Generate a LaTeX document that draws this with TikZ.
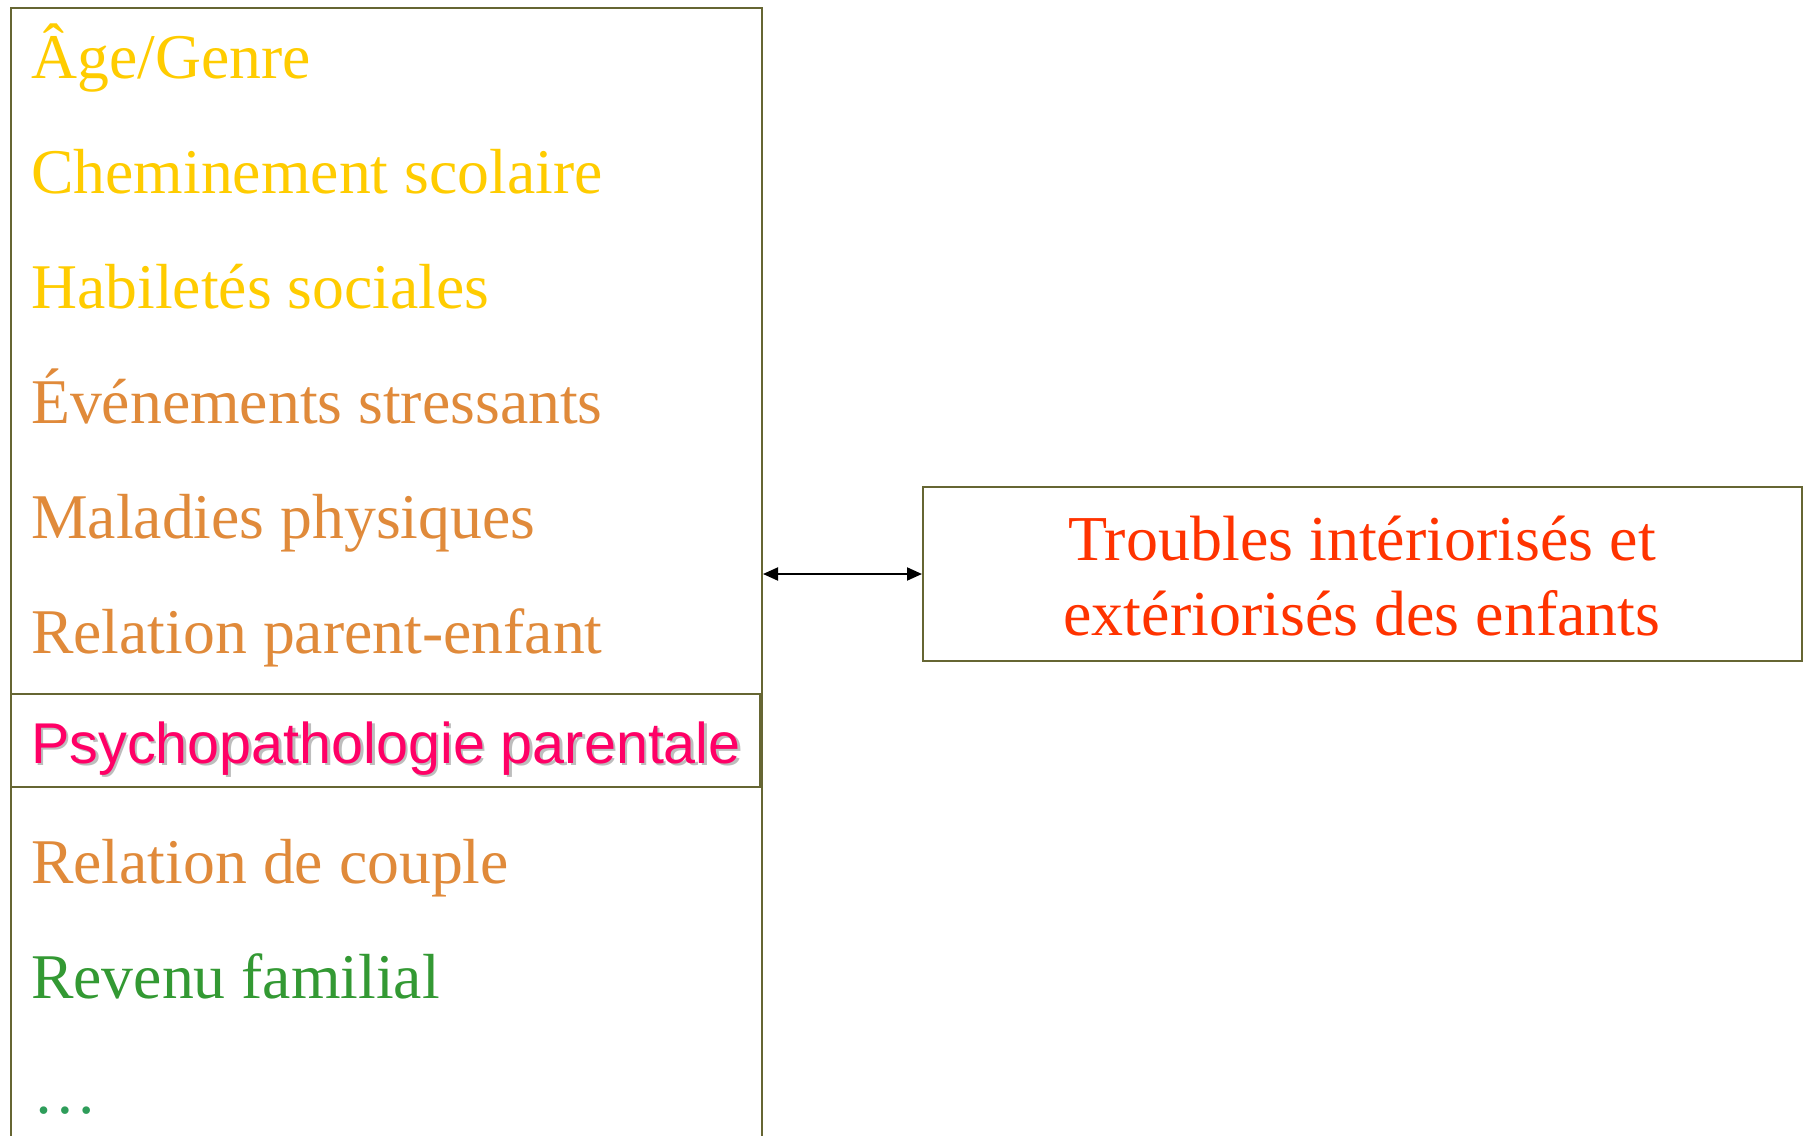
\documentclass[tikz,border=0pt]{standalone}
\usepackage{fontspec}
\setmainfont{Liberation Serif}
\newfontfamily\arialf{Liberation Sans}
\usetikzlibrary{arrows.meta}
\definecolor{boxline}{HTML}{666633}
\definecolor{cgold}{HTML}{FFCC00}
\definecolor{corange}{HTML}{E08A3A}
\definecolor{cpink}{HTML}{FF0066}
\definecolor{cgreen}{HTML}{339933}
\definecolor{cdots}{HTML}{2E9D5A}
\definecolor{cred}{HTML}{FF3300}
\definecolor{cshadow}{HTML}{BDBDBD}
\tikzset{
  framebox/.style={draw=boxline, line width=2pt, inner sep=0pt, anchor=north west},
  item/.style={anchor=base west, inner sep=0pt, font=\fontsize{63.7}{74}\selectfont},
  psy/.style={anchor=base west, inner sep=0pt, font=\arialf\fontsize{57.5}{66}\selectfont},
  outtext/.style={anchor=base, inner sep=0pt, text=cred, font=\fontsize{64}{72}\selectfont},
  link/.style={{Triangle[length=15pt,width=13pt]}-{Triangle[length=15pt,width=13pt]}, line width=2pt, black}
}
\begin{document}
\begin{tikzpicture}[x=1pt,y=-1pt]
\useasboundingbox[fill=white] (0,0) rectangle (1803,1135);
% left frame
\node[framebox, minimum width=751pt, minimum height=1160pt] (factors) at (10,7) {};
\node[framebox, minimum width=749pt, minimum height=93pt] (psybox) at (10,693) {};
% items
\node[item, text=cgold] (age) at (31,78) {Âge/Genre};
\node[item, text=cgold] (chem) at (31,193) {Cheminement scolaire};
\node[item, text=cgold] (hab) at (31,308) {Habiletés sociales};
\node[item, text=corange] (even) at (31,423) {Événements stressants};
\node[item, text=corange] (mal) at (31,538) {Maladies physiques};
\node[item, text=corange] (relpe) at (31,653) {Relation parent-enfant};
\node[psy, text=cshadow] (psyshadow) at (33.5,765.5) {Psychopathologie parentale};
\node[psy, text=cpink] (psy) at (31,763) {Psychopathologie parentale};
\node[item, text=corange] (relc) at (31,883) {Relation de couple};
\node[item, text=cgreen] (rev) at (31,998) {Revenu familial};
\node[item, text=cdots] (dots) at (33,1113) {…};
% outcome box
\node[framebox, minimum width=879pt, minimum height=174pt] (out) at (922,486) {};
\node[outtext] (t1) at (1362,560) {Troubles intériorisés et};
\node[outtext] (t2) at (1362,635) {extériorisés des enfants};
% connector
\draw[link] (factors.east |- out.west) -- (out.west);
\end{tikzpicture}
\end{document}
